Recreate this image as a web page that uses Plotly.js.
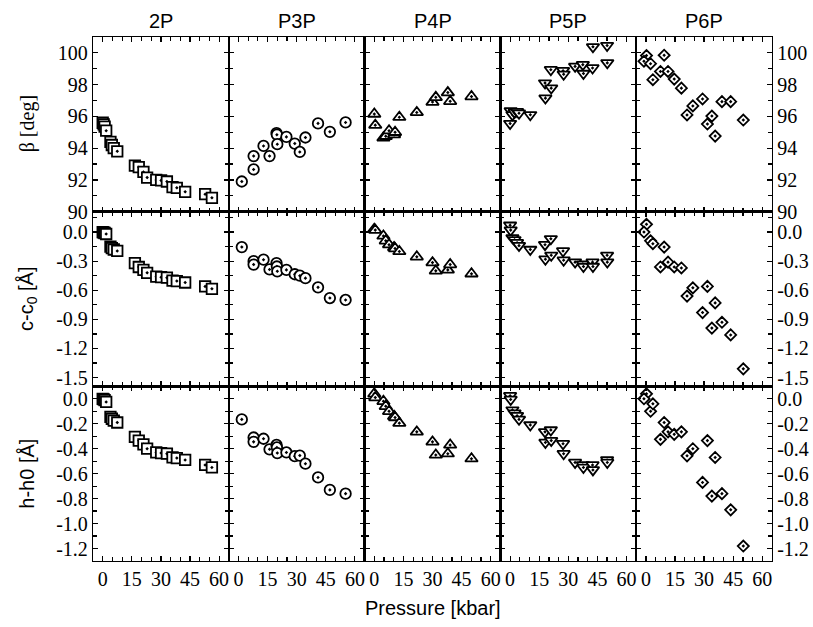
<!DOCTYPE html>
<html>
<head>
<meta charset="utf-8">
<script src="https://cdn.plot.ly/plotly-3.0.1.min.js"></script>
<style>html,body{margin:0;padding:0;background:#fff;}#chart{width:813px;height:627px;}</style>
</head>
<body>
<div id="chart"></div>
<script>
// ---- data ----
const panelNames = ["2P", "P3P", "P4P", "P5P", "P6P"];
const rowTitles = ["β [deg]", "c-c<sub>0</sub> [Å]", "h-h0 [Å]"];
const xTickVals = [0, 15, 30, 45, 60];

const p2P   = [0, 0.5, 1.0, 1.8, 4.0, 4.7, 5.7, 7.5, 16.6, 18.6, 21.0, 22.9, 27.6, 30.1, 33.1, 36.0, 38.2, 42.5, 52.8, 56.3];
const beta2P= [95.6, 95.5, 95.35, 95.1, 94.4, 94.2, 94.0, 93.8, 92.9, 92.8, 92.5, 92.15, 92.0, 91.97, 91.9, 91.55, 91.5, 91.25, 91.1, 90.87];
const c2P   = [0.0, -0.005, -0.01, -0.02, -0.15, -0.165, -0.18, -0.195, -0.32, -0.36, -0.39, -0.42, -0.46, -0.465, -0.47, -0.5, -0.505, -0.52, -0.56, -0.585];
const h2P   = [0.0, -0.005, -0.01, -0.025, -0.145, -0.16, -0.175, -0.19, -0.305, -0.335, -0.365, -0.40, -0.43, -0.435, -0.44, -0.47, -0.475, -0.49, -0.53, -0.55];

const pP3P   = [1.7, 7.8, 7.8, 12.9, 16.0, 19.6, 19.8, 20.0, 24.7, 29.0, 31.6, 34.5, 41.0, 47.1, 55.2];
const betaP3P= [91.9, 92.66, 93.5, 94.14, 93.5, 94.95, 94.85, 94.25, 94.71, 94.29, 93.76, 94.67, 95.56, 95.03, 95.62];
const cP3P   = [-0.155, -0.30, -0.335, -0.285, -0.385, -0.32, -0.355, -0.405, -0.39, -0.435, -0.45, -0.475, -0.57, -0.68, -0.70];
const hP3P   = [-0.165, -0.31, -0.345, -0.32, -0.405, -0.37, -0.39, -0.435, -0.43, -0.46, -0.455, -0.52, -0.63, -0.73, -0.76];

const pP4P   = [0.0, 0.5, 4.7, 5.9, 7.6, 10.2, 10.7, 12.9, 21.9, 30.0, 31.7, 37.9, 39.1, 50.1];
const betaP4P= [96.15, 95.45, 94.65, 94.75, 95.1, 94.85, 95.0, 95.95, 96.25, 96.9, 97.2, 97.5, 96.95, 97.25];
const cP4P   = [0.03, 0.02, -0.04, -0.09, -0.13, -0.16, -0.17, -0.20, -0.255, -0.315, -0.40, -0.39, -0.335, -0.43];
const hP4P   = [0.04, 0.01, -0.02, -0.06, -0.10, -0.14, -0.15, -0.195, -0.265, -0.345, -0.45, -0.44, -0.37, -0.48];

const pP5P   = [0.0, 0.3, 1.2, 2.3, 3.6, 4.6, 10.4, 18.0, 18.2, 21.0, 21.2, 27.3, 27.6, 33.5, 37.5, 37.8, 42.5, 42.7, 50.0, 50.1];
const betaP5P= [95.55, 96.35, 96.1, 96.25, 96.3, 96.2, 96.1, 98.1, 97.15, 98.94, 97.78, 98.88, 98.65, 99.15, 99.26, 98.7, 99.05, 100.38, 100.46, 99.37];
const cP5P   = [0.07, 0.02, -0.06, -0.08, -0.11, -0.14, -0.18, -0.13, -0.28, -0.07, -0.24, -0.195, -0.29, -0.31, -0.33, -0.355, -0.31, -0.355, -0.24, -0.31];
const hP5P   = [0.025, -0.005, -0.09, -0.115, -0.135, -0.165, -0.21, -0.265, -0.35, -0.25, -0.335, -0.36, -0.44, -0.51, -0.53, -0.55, -0.53, -0.57, -0.49, -0.51];

const pP6P   = [0.3, -1.0, 2.4, 3.6, 7.5, 9.4, 11.4, 14.6, 18.3, 21.2, 24.2, 29.2, 31.7, 34.0, 35.7, 39.2, 43.7, 50.2];
const betaP6P= [99.83, 99.47, 99.32, 98.31, 98.83, 99.85, 98.83, 98.35, 97.78, 96.09, 96.66, 97.1, 95.52, 96.02, 94.76, 96.93, 96.93, 95.77];
const cP6P   = [0.08, 0.0, -0.09, -0.12, -0.36, -0.155, -0.31, -0.36, -0.37, -0.66, -0.575, -0.83, -0.56, -0.99, -0.73, -0.93, -1.06, -1.41];
const hP6P   = [0.04, 0.0, -0.10, -0.04, -0.325, -0.19, -0.265, -0.285, -0.265, -0.457, -0.40, -0.67, -0.335, -0.78, -0.47, -0.76, -0.89, -1.18];

const yTickVals = [
  [90, 92, 94, 96, 98, 100],
  [0, -0.3, -0.6, -0.9, -1.2, -1.5],
  [0, -0.2, -0.4, -0.6, -0.8, -1.0, -1.2]
];
const yTickText = [
  ["90", "92", "94", "96", "98", "100"],
  ["0.0", "-0.3", "-0.6", "-0.9", "-1.2", "-1.5"],
  ["0.0", "-0.2", "-0.4", "-0.6", "-0.8", "-1.0", "-1.2"]
];

// ---- assembly ----
const pressures = [p2P, pP3P, pP4P, pP5P, pP6P];
const series = [
  [beta2P, betaP3P, betaP4P, betaP5P, betaP6P],
  [c2P, cP3P, cP4P, cP5P, cP6P],
  [h2P, hP3P, hP4P, hP5P, hP6P]
];
const symbols = ["square-dot", "circle-dot", "triangle-up-dot", "triangle-down-dot", "diamond-dot"];
const sizes = [10.5, 10.5, 11, 11, 8.5];
const yRanges = [[90, 101], [-1.59, 0.21], [-1.3, 0.1]];
const yMinor = [1, 0.15, 0.1];

const serif = "Liberation Serif, Times New Roman, serif";
const sans = "Liberation Sans, Arial, sans-serif";

const traces = [];
const layout = {
  width: 813, height: 627,
  margin: {l: 93, r: 41, t: 37, b: 66},
  paper_bgcolor: "#fff", plot_bgcolor: "#fff",
  showlegend: false,
  font: {family: serif, size: 20, color: "#000"},
  annotations: []
};

for (let r = 0; r < 3; r++) {
  for (let c = 0; c < 5; c++) {
    const k = r * 5 + c + 1;
    const xa = "x" + (k === 1 ? "" : k), ya = "y" + (k === 1 ? "" : k);
    traces.push({
      type: "scatter", mode: "markers",
      x: pressures[c], y: series[r][c],
      xaxis: xa, yaxis: ya,
      marker: {symbol: symbols[c], size: sizes[c], color: "#fff",
               line: {color: "#000", width: 1.8}},
      hoverinfo: "x+y"
    });
    const x0 = c / 5, x1 = (c + 1) / 5;
    const y1 = 1 - r / 3, y0 = 1 - (r + 1) / 3;
    layout["xaxis" + (k === 1 ? "" : k)] = {
      domain: [x0, x1], anchor: ya, range: [-5, 65],
      tickmode: "array", tickvals: xTickVals, ticktext: xTickVals.map(String),
      showticklabels: r === 2,
      ticks: "inside", ticklen: 5, tickwidth: 1.2, tickcolor: "#000",
      minor: {tickmode: "linear", tick0: 0, dtick: 5, ticks: "inside", ticklen: 4, tickwidth: 1.2, tickcolor: "#000"},
      showline: true, linecolor: "#000", linewidth: 1.2, mirror: "allticks",
      showgrid: false, zeroline: false,
      tickfont: {family: serif, size: 20, color: "#000"}
    };
    layout["yaxis" + (k === 1 ? "" : k)] = {
      domain: [y0, y1], anchor: xa, range: yRanges[r],
      tickmode: "array", tickvals: yTickVals[r], ticktext: yTickText[r],
      showticklabels: c === 0 || c === 4,
      side: c === 4 ? "right" : "left",
      ticks: "inside", ticklen: 5, tickwidth: 1.2, tickcolor: "#000",
      minor: {tickmode: "linear", tick0: 0, dtick: yMinor[r], ticks: "inside", ticklen: 4, tickwidth: 1.2, tickcolor: "#000"},
      showline: true, linecolor: "#000", linewidth: 1.2, mirror: "allticks",
      showgrid: false, zeroline: false,
      tickfont: {family: serif, size: 20, color: "#000"}
    };
  }
}

// column titles
panelNames.forEach((name, c) => {
  layout.annotations.push({
    text: name, xref: "paper", yref: "paper",
    x: (c + 0.5) / 5, y: 1, yshift: 3, xanchor: "center", yanchor: "bottom",
    showarrow: false, font: {family: sans, size: 20, color: "#000"}
  });
});
// row titles
const rowFonts = [serif, sans, sans];
rowTitles.forEach((t, r) => {
  layout.annotations.push({
    text: t, xref: "paper", yref: "paper",
    x: 0, xshift: -66, y: 1 - (r + 0.5) / 3, xanchor: "center", yanchor: "middle",
    textangle: -90, showarrow: false, font: {family: rowFonts[r], size: 20, color: "#000"}
  });
});
layout.annotations.push({
  text: "Pressure [kbar]", xref: "paper", yref: "paper",
  x: 0.5, y: 0, yshift: -47, xanchor: "center", yanchor: "middle",
  showarrow: false, font: {family: sans, size: 20, color: "#000"}
});

Plotly.newPlot("chart", traces, layout, {staticPlot: true, displayModeBar: false});
</script>
</body>
</html>
